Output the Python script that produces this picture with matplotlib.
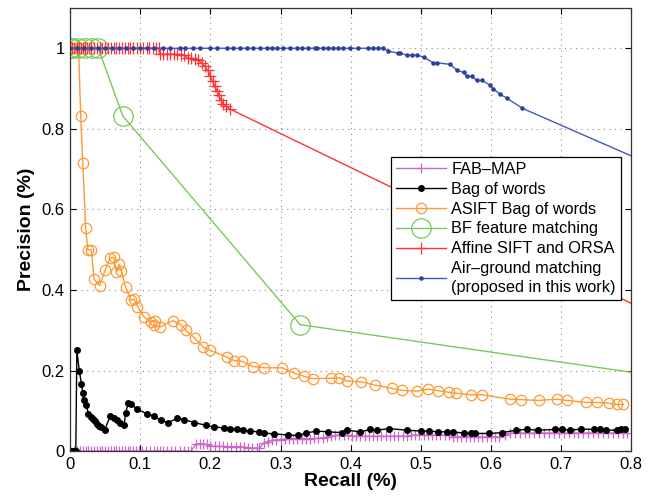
import numpy as np
import matplotlib
matplotlib.use("Agg")
import matplotlib.pyplot as plt

plt.rcParams['font.family'] = ['Liberation Sans', 'DejaVu Sans']
plt.rcParams['font.size'] = 11

# ─── DATA ────────────────────────────────────────────────────────────────
# FAB-MAP
fab_x = [0.0, 0.005, 0.01, 0.014, 0.018, 0.022, 0.026, 0.03, 0.034, 0.038, 0.042, 0.046,
         0.05, 0.054, 0.058, 0.062, 0.066, 0.07, 0.074, 0.078, 0.082, 0.086, 0.09, 0.094,
         0.098, 0.102, 0.108, 0.114, 0.12, 0.124, 0.128, 0.132, 0.138, 0.144, 0.15, 0.156,
         0.162, 0.168, 0.172,
         0.18, 0.185, 0.19, 0.195, 0.2, 0.206, 0.212, 0.218, 0.224, 0.23, 0.236, 0.242,
         0.248, 0.254, 0.26, 0.266, 0.27,
         0.276, 0.282, 0.288, 0.294, 0.3, 0.306, 0.312, 0.318, 0.324, 0.33, 0.336, 0.342,
         0.348, 0.354, 0.36, 0.366, 0.372, 0.378, 0.384, 0.39, 0.396,
         0.402, 0.408, 0.414, 0.42, 0.426, 0.432, 0.438, 0.444, 0.45, 0.456, 0.462, 0.468,
         0.474, 0.48, 0.486, 0.492, 0.498, 0.504, 0.51, 0.516, 0.522, 0.528, 0.534, 0.54,
         0.546, 0.552, 0.558, 0.564, 0.57, 0.576, 0.582, 0.588, 0.594, 0.6, 0.606, 0.612,
         0.62, 0.627, 0.634, 0.641, 0.648, 0.655, 0.662, 0.669, 0.676, 0.683, 0.69, 0.697,
         0.704, 0.711, 0.718, 0.725, 0.732, 0.739, 0.746, 0.753, 0.76, 0.767, 0.774, 0.781,
         0.788, 0.794]
fab_y = [0.0] * 39 + \
        [0.018, 0.018, 0.018, 0.017, 0.013, 0.012, 0.012, 0.012, 0.011, 0.011, 0.011, 0.011,
         0.01, 0.009, 0.008, 0.008, 0.008,
         0.02, 0.024, 0.027, 0.028, 0.029, 0.03, 0.031, 0.031, 0.031, 0.031, 0.031, 0.031,
         0.032, 0.032, 0.033, 0.035, 0.037, 0.039, 0.04, 0.04, 0.04,
         0.037, 0.037, 0.037, 0.037, 0.037, 0.037, 0.037, 0.037, 0.037, 0.037, 0.037, 0.037,
         0.037, 0.037, 0.039, 0.04, 0.04, 0.04, 0.04, 0.04, 0.04, 0.04, 0.04, 0.04,
         0.036, 0.036, 0.035, 0.035, 0.035, 0.035, 0.035, 0.035, 0.035, 0.035, 0.035, 0.035,
         0.04, 0.044, 0.045, 0.045, 0.045, 0.045, 0.045, 0.045, 0.045, 0.045, 0.045, 0.045,
         0.045, 0.045, 0.045, 0.045, 0.045, 0.045, 0.045, 0.045, 0.045, 0.045, 0.045, 0.045,
         0.045, 0.045]

# Bag of words
bow_x = [0.0, 0.003, 0.006, 0.008, 0.0095, 0.013, 0.016, 0.018, 0.019, 0.023, 0.026, 0.03,
         0.032, 0.035, 0.038, 0.041, 0.044, 0.049, 0.057, 0.062, 0.067, 0.071, 0.077, 0.079,
         0.083, 0.087, 0.096, 0.109, 0.119, 0.129, 0.14, 0.153, 0.163, 0.177, 0.194, 0.205,
         0.219, 0.228, 0.238, 0.246, 0.256, 0.269, 0.276, 0.291, 0.311, 0.325, 0.337, 0.351,
         0.368, 0.387, 0.395, 0.414, 0.428, 0.437, 0.455, 0.481, 0.5, 0.512, 0.524, 0.537,
         0.546, 0.561, 0.571, 0.578, 0.597, 0.616, 0.636, 0.652, 0.667, 0.692, 0.701, 0.713,
         0.729, 0.747, 0.755, 0.764, 0.78, 0.786, 0.792]
bow_y = [0.0, 0.0, 0.0, 0.0, 0.25, 0.2, 0.167, 0.144, 0.126, 0.114, 0.093, 0.085,
         0.079, 0.074, 0.068, 0.063, 0.059, 0.052, 0.087, 0.083, 0.077, 0.07, 0.064, 0.095,
         0.12, 0.116, 0.104, 0.093, 0.087, 0.077, 0.071, 0.082, 0.078, 0.071, 0.064, 0.06,
         0.058, 0.056, 0.054, 0.052, 0.05, 0.048, 0.045, 0.043, 0.04, 0.039, 0.045, 0.05,
         0.048, 0.046, 0.052, 0.048, 0.054, 0.052, 0.056, 0.052, 0.05, 0.05, 0.048, 0.048,
         0.048, 0.045, 0.045, 0.044, 0.044, 0.046, 0.052, 0.054, 0.052, 0.054, 0.054, 0.052,
         0.055, 0.054, 0.054, 0.052, 0.052, 0.054, 0.054]

# ASIFT Bag of words
asift_x = [0.0, 0.005, 0.012, 0.015, 0.018, 0.022, 0.025, 0.03, 0.034, 0.042, 0.05, 0.057,
           0.062, 0.066, 0.07, 0.073, 0.079, 0.087, 0.091, 0.096, 0.105, 0.115, 0.121, 0.119,
           0.128, 0.146, 0.158, 0.165, 0.178, 0.19, 0.2, 0.224, 0.233, 0.245, 0.261, 0.277,
           0.302, 0.319, 0.333, 0.346, 0.372, 0.384, 0.395, 0.415, 0.435, 0.459, 0.473, 0.494,
           0.511, 0.525, 0.54, 0.551, 0.571, 0.587, 0.628, 0.643, 0.668, 0.694, 0.708, 0.735,
           0.751, 0.768, 0.78, 0.789]
asift_y = [1.0, 1.0, 1.0, 0.832, 0.714, 0.555, 0.5, 0.5, 0.427, 0.411, 0.45, 0.479,
           0.481, 0.444, 0.464, 0.448, 0.407, 0.374, 0.378, 0.359, 0.334, 0.32, 0.324, 0.312,
           0.308, 0.324, 0.314, 0.3, 0.28, 0.258, 0.25, 0.233, 0.225, 0.223, 0.21, 0.207,
           0.207, 0.194, 0.186, 0.18, 0.181, 0.182, 0.174, 0.172, 0.164, 0.156, 0.151, 0.149,
           0.154, 0.15, 0.146, 0.144, 0.14, 0.14, 0.129, 0.128, 0.126, 0.129, 0.126, 0.121,
           0.121, 0.119, 0.116, 0.116]

# BF feature matching
bf_x = [0.0, 0.003, 0.011, 0.021, 0.031, 0.04, 0.075, 0.328, 0.9]
bf_y = [1.0, 1.0, 1.0, 1.0, 1.0, 1.0, 0.832, 0.314, 0.171]

# Affine SIFT and ORSA
orsa_x = [0.0, 0.003, 0.006, 0.009, 0.012, 0.015, 0.018, 0.021, 0.024, 0.027, 0.03, 0.034,
          0.038, 0.042, 0.046, 0.05, 0.054, 0.058, 0.062, 0.066, 0.07, 0.074, 0.078, 0.082,
          0.086, 0.09, 0.095, 0.1, 0.104, 0.109, 0.113, 0.118, 0.122, 0.126,
          0.128, 0.133, 0.138, 0.143, 0.148, 0.153, 0.158, 0.163, 0.168, 0.173, 0.178, 0.183,
          0.188, 0.192, 0.196, 0.2, 0.203, 0.206, 0.209, 0.212, 0.215, 0.218, 0.222, 0.228,
          0.85]
orsa_y = [1.0] * 34 + \
         [0.985, 0.985, 0.985, 0.985, 0.985, 0.985, 0.984, 0.983, 0.975, 0.975, 0.973, 0.97,
          0.963, 0.955, 0.945, 0.932, 0.918, 0.906, 0.895, 0.883, 0.872, 0.862, 0.856, 0.849,
          0.325]

# Air-ground matching (proposed)
air_x = [0.0, 0.01, 0.02, 0.03, 0.04, 0.05, 0.06, 0.07, 0.08, 0.09, 0.1, 0.11, 0.12,
         0.133, 0.143, 0.157, 0.164, 0.175, 0.185, 0.2, 0.21, 0.224, 0.232, 0.242, 0.252,
         0.261, 0.271, 0.281, 0.288, 0.295, 0.304, 0.314, 0.324, 0.331, 0.339, 0.349, 0.352,
         0.36, 0.368, 0.375, 0.382, 0.389, 0.399, 0.411, 0.425, 0.432, 0.439, 0.446,
         0.454, 0.467, 0.471, 0.48, 0.487, 0.495, 0.504, 0.518, 0.523, 0.542, 0.552, 0.561,
         0.566, 0.573, 0.58, 0.588, 0.599, 0.603, 0.613, 0.623, 0.645, 0.85]
air_y = [1.0] * 48 + \
        [0.993, 0.988, 0.988, 0.983, 0.983, 0.983, 0.978, 0.964, 0.964, 0.96, 0.945, 0.94,
         0.93, 0.93, 0.92, 0.92, 0.908, 0.9, 0.886, 0.876, 0.851, 0.695]

labels = ["FAB\u2013MAP", "Bag of words", "ASIFT Bag of words", "BF feature matching",
          "Affine SIFT and ORSA", "Air\u2013ground matching\n(proposed in this work)"]

# ─── PLOT ────────────────────────────────────────────────────────────────
fig = plt.figure(figsize=(6.56, 4.98), dpi=100)
ax = fig.add_axes([0.107, 0.094, 0.855, 0.89])

ax.plot(fab_x, fab_y, color='#cc66cc', lw=1.0, marker='+', ms=7, mew=0.9, label=labels[0])
ax.plot(bow_x, bow_y, color='black', lw=1.0, marker='.', ms=8, label=labels[1])
ax.plot(asift_x, asift_y, color='#ff9933', lw=1.0, marker='o', ms=7.5, mfc='none', mew=0.9,
        label=labels[2])
ax.plot(bf_x, bf_y, color='#77c95a', lw=1.0, marker='o', ms=14, mfc='none', mew=0.9,
        label=labels[3])
ax.plot(orsa_x, orsa_y, color='#ff3333', lw=1.0, marker='+', ms=9, mew=0.9, label=labels[4])
ax.plot(air_x, air_y, color='#4258c0', lw=1.0, marker='.', ms=4.5, mec='#2b3f9e',
        mfc='#2b3f9e', label=labels[5])

ax.set_xlim(0, 0.8)
ax.set_ylim(0, 1.1)
ax.set_xticks(np.arange(0, 0.81, 0.1))
ax.set_xticklabels(["0", "0.1", "0.2", "0.3", "0.4", "0.5", "0.6", "0.7", "0.8"])
ax.set_yticks([0, 0.2, 0.4, 0.6, 0.8, 1.0])
ax.set_yticklabels(["0", "0.2", "0.4", "0.6", "0.8", "1"])
ax.tick_params(direction='in', top=True, right=True, length=4, labelsize=12, pad=4)
ax.grid(True, linestyle=(0, (1, 4)), color='#888888', linewidth=0.8)

for s in ax.spines.values():
    s.set_color('#333333')
    s.set_linewidth(0.9)

ax.set_xlabel("Recall (%)", fontsize=14, fontweight='bold', labelpad=1)
ax.set_ylabel("Precision (%)", fontsize=14, fontweight='bold', labelpad=5)

leg = ax.legend(loc='upper left', bbox_to_anchor=(0.572, 0.664), fontsize=11.7,
                handlelength=3.1, labelspacing=0.3, borderpad=0.3, handletextpad=0.3,
                fancybox=False, framealpha=1.0, edgecolor='black', borderaxespad=0)
leg.get_frame().set_linewidth(0.9)
for t in leg.get_texts():
    t.set_linespacing(1.3)

fig.savefig("out.png", dpi=100)
